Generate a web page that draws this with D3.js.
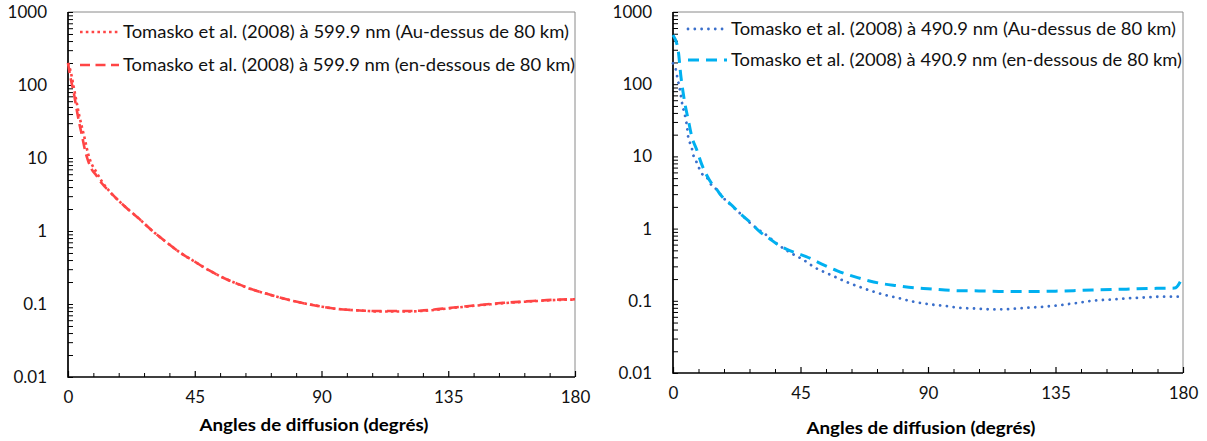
<!DOCTYPE html>
<html><head><meta charset="utf-8">
<script src="https://cdn.jsdelivr.net/npm/d3@7"></script>
<style>body{margin:0;background:#fff}svg{display:block}</style>
</head><body>
<svg id="c" width="1207" height="441"></svg>
<script>
// ---- data ----
const xTickLabels = [0, 45, 90, 135, 180];
const yTickLabels = [0.01, 0.1, 1, 10, 100, 1000];
const axisTitle = "Angles de diffusion (degrés)";

const leftNames = ["Tomasko et al. (2008) à 599.9 nm (Au-dessus de 80 km)", "Tomasko et al. (2008) à 599.9 nm (en-dessous de 80 km)"];
const rightNames = ["Tomasko et al. (2008) à 490.9 nm (Au-dessus de 80 km)", "Tomasko et al. (2008) à 490.9 nm (en-dessous de 80 km)"];

const leftAboveAngles = [0,1,2,3,4,5,6,7,8,10,12,15,20,25,30,35,40,45,50,55,60,65,70,75,80,85,90,95,100,105,110,115,120,125,130,135,140,145,150,155,160,165,170,175,180];
const leftAboveValues = [200,150,95,60,38,26,18,12,9,6.5,4.8,3.4,2.2,1.5,1.0,0.7,0.5,0.38,0.29,0.23,0.19,0.16,0.14,0.123,0.11,0.1,0.092,0.086,0.083,0.081,0.079,0.079,0.079,0.08,0.083,0.087,0.091,0.095,0.099,0.103,0.106,0.109,0.112,0.114,0.115];
const leftBelowAngles = [0,1,2,3,4,5,6,7,8,10,12,15,20,25,30,35,40,45,50,55,60,65,70,75,80,85,90,95,100,105,110,115,120,125,130,135,140,145,150,155,160,165,170,175,180];
const leftBelowValues = [200,120,80,48,30,20,13,9.5,7.5,5.8,4.5,3.4,2.2,1.5,1.0,0.7,0.5,0.38,0.29,0.23,0.19,0.16,0.14,0.123,0.11,0.1,0.092,0.086,0.083,0.081,0.08,0.08,0.08,0.081,0.084,0.088,0.092,0.096,0.1,0.104,0.107,0.11,0.113,0.115,0.116];

const rightAboveAngles = [0,1,1.5,2.5,3.3,4,4.5,5,5.5,6.5,7,8,9,10,12,13,15,18,20,23.6,27,30,33,36,39,42,46,50,55,61,66,71,75,80,85,90,96,101,107,113,119,125,131,137,143,148,154,160,166,172,180];
const rightAboveValues = [195,160,125,81,52,40,33,25,17,14,11,8.9,7.2,5.9,5.1,4.3,3.6,2.6,2.2,1.63,1.22,0.98,0.81,0.65,0.53,0.45,0.37,0.29,0.235,0.184,0.155,0.133,0.12,0.108,0.097,0.09,0.085,0.080,0.078,0.076,0.077,0.080,0.083,0.0875,0.094,0.100,0.104,0.108,0.111,0.114,0.114];
const rightBelowAngles = [0,1.8,2.8,3.5,4.2,5.4,6.6,8.4,10,11.3,13.7,15,16.6,18.4,20,23.6,27,31,34,37,40,44,47,52,58,64,69,73,79,85,90,96,101,108,115,125,135,148,160,172,177,180];
const rightBelowValues = [480,300,127,80,54,32,19,12.3,8,6.1,4.2,3.7,3.0,2.5,2.24,1.63,1.25,0.88,0.73,0.6,0.52,0.45,0.41,0.33,0.26,0.216,0.19,0.175,0.162,0.152,0.147,0.141,0.138,0.137,0.135,0.134,0.136,0.141,0.145,0.149,0.150,0.22];

// ---- layout ----
const FONT = "Lato, 'Open Sans', sans-serif";
const svg = d3.select("#c");

const panels = [
  { box:{x0:68, x1:575, y0:12, y1:377}, ytx:47, xty:404, ttx:314, tty:425,
    legend:{x:80, y:[32,65], w:[446,452]},
    series:[
      {name:leftNames[0], a:leftAboveAngles, v:leftAboveValues, color:"#FF4545", width:2.6, dash:"2.6 3.2", cap:"butt"},
      {name:leftNames[1], a:leftBelowAngles, v:leftBelowValues, color:"#FF4545", width:2.6, dash:"10 5.5", cap:"butt"}
    ]},
  { box:{x0:673, x1:1183, y0:12, y1:373}, ytx:652, xty:400, ttx:921, tty:428,
    legend:{x:688, y:[29,60], w:[445,451]},
    series:[
      {name:rightNames[0], a:rightAboveAngles, v:rightAboveValues, color:"#3A6FCB", width:2.8, dash:"0.01 6.8", cap:"round"},
      {name:rightNames[1], a:rightBelowAngles, v:rightBelowValues, color:"#00B0F0", width:3, dash:"11 7", cap:"butt"}
    ]}
];

panels.forEach(p => {
  const b = p.box;
  const x = d3.scaleLinear().domain([0,180]).range([b.x0,b.x1]);
  const y = d3.scaleLog().domain([0.01,1000]).range([b.y1,b.y0]);
  const g = svg.append("g");

  g.append("path").attr("d", `M${b.x0},${b.y0}H${b.x1}V${b.y1}`)
    .attr("fill","none").attr("stroke","#8a8a8a").attr("stroke-width",1);

  const yMinor = [];
  for (let e=-2; e<3; e++) for (let k=1;k<10;k++) yMinor.push(k*Math.pow(10,e));
  yMinor.push(1000);
  g.append("g").attr("transform",`translate(${b.x0},0)`)
    .call(d3.axisRight(y).tickValues(yMinor).tickSize(5).tickFormat(""))
    .call(s=>{s.select(".domain").remove(); s.selectAll("line").attr("stroke","#000").attr("stroke-width",1);});
  g.append("g").attr("transform",`translate(${b.x0},0)`)
    .call(d3.axisLeft(y).tickValues(yTickLabels).tickSize(0).tickPadding(b.x0-p.ytx).tickFormat(d=>String(d)))
    .call(s=>{s.select(".domain").remove(); s.selectAll("text").attr("font-family",FONT).attr("font-size",17).attr("fill","#111");});

  const xMinor = d3.range(0,181,9).filter(d=>d%45!==0);
  g.append("g").attr("transform",`translate(0,${b.y1})`)
    .call(d3.axisTop(x).tickValues(xMinor).tickSize(4).tickFormat(""))
    .call(s=>{s.select(".domain").remove(); s.selectAll("line").attr("stroke","#000").attr("stroke-width",1);});
  g.append("g").attr("transform",`translate(0,${b.y1})`)
    .call(d3.axisTop(x).tickValues(xTickLabels).tickSize(6).tickFormat(""))
    .call(s=>{s.select(".domain").remove(); s.selectAll("line").attr("stroke","#000").attr("stroke-width",1.2);});
  g.append("g").attr("transform",`translate(0,${b.y1})`)
    .call(d3.axisBottom(x).tickValues(xTickLabels).tickSize(0).tickPadding(p.xty-b.y1-6).tickFormat(d=>String(d)))
    .call(s=>{s.select(".domain").remove(); s.selectAll("text").attr("font-family",FONT).attr("font-size",17).attr("fill","#111").attr("dy","0.32em");});

  g.append("path").attr("d",`M${b.x0},${b.y0}V${b.y1}H${b.x1}`)
    .attr("fill","none").attr("stroke","#000").attr("stroke-width",1.7);

  g.append("text").attr("x",p.ttx).attr("y",p.tty).attr("dy","0.35em")
    .attr("text-anchor","middle").attr("font-family",FONT).attr("font-weight","bold").attr("font-size",17.5)
    .attr("textLength",229).attr("lengthAdjust","spacingAndGlyphs")
    .attr("fill","#000").text(axisTitle);

  const line = d3.line().x(d=>x(d[0])).y(d=>y(d[1])).curve(d3.curveMonotoneX);
  p.series.forEach(s=>{
    g.append("path").datum(s.a.map((a,i)=>[a,s.v[i]]))
      .attr("d",line).attr("fill","none").attr("stroke",s.color).attr("stroke-width",s.width)
      .attr("stroke-dasharray",s.dash).attr("stroke-linecap",s.cap);
  });

  p.series.forEach((s,i)=>{
    const ly = p.legend.y[i];
    g.append("line").attr("x1",p.legend.x).attr("x2",p.legend.x+39).attr("y1",ly).attr("y2",ly)
      .attr("stroke",s.color).attr("stroke-width",s.width).attr("stroke-dasharray",s.dash).attr("stroke-linecap",s.cap);
    g.append("text").attr("x",p.legend.x+43).attr("y",ly).attr("dy","0.35em")
      .attr("font-family",FONT).attr("font-size",17.5).attr("fill","#111")
      .attr("textLength",p.legend.w[i]).attr("lengthAdjust","spacingAndGlyphs").text(s.name);
  });
});
</script>
</body></html>
